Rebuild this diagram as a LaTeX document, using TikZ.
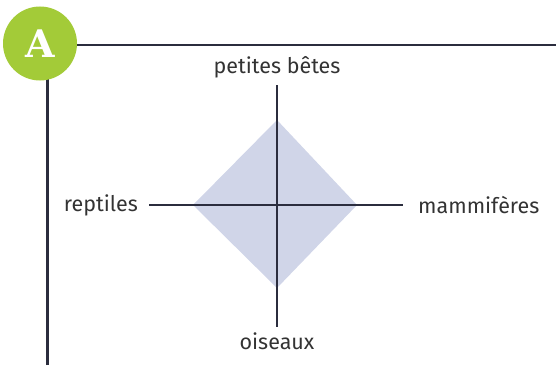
\documentclass[tikz,border=0pt]{standalone}
\usepackage{fontspec}
\setmainfont{Fira Sans}
\newfontfamily\badgefont{DejaVu Serif}
\usetikzlibrary{positioning}
\definecolor{badgegreen}{RGB}{163,203,56}
\definecolor{axisnavy}{RGB}{43,45,62}
\definecolor{fillblue}{RGB}{208,213,232}
\definecolor{labelgrey}{RGB}{51,51,51}

\begin{document}
\begin{tikzpicture}[x=1pt,y=1pt,
    axis/.style={draw=axisnavy,line width=2pt},
    frameline/.style={draw=axisnavy,line width=2.4pt},
    lbl/.style={text=labelgrey,font=\fontsize{21.5}{24}\selectfont,inner sep=0pt},
    badge/.style={circle,fill=badgegreen,minimum size=74pt,inner sep=0pt,
        text=white,font=\badgefont\bfseries\fontsize{38}{38}\selectfont}]
    \useasboundingbox (0,0) rectangle (556,365);
    \coordinate (framefoot) at (47.5,0);
    \coordinate (corner) at (47.5,320);
    \coordinate (frameend) at (556,320);
    \draw[frameline] (framefoot) -- (corner) -- (frameend);
    \node[badge] (badgeA) at (40,321.5) {A};
    \coordinate (centre) at (277,160);
    \coordinate (top) at (277,280);
    \coordinate (bottom) at (277,38);
    \coordinate (left) at (149,160);
    \coordinate (right) at (403,160);
    \coordinate (dtop) at (277,245);
    \coordinate (dbottom) at (277,77);
    \coordinate (dleft) at (193,160);
    \coordinate (dright) at (357,160);
    \fill[fillblue] (dtop) -- (dright) -- (dbottom) -- (dleft) -- cycle;
    \draw[axis] (top) -- (bottom);
    \draw[axis] (left) -- (right);
    \node[lbl,above=7pt of top] (petites) {petites bêtes};
    \node[lbl,below=6pt of bottom] (oiseaux) {oiseaux};
    \node[lbl,left=11pt of left] (reptiles) {reptiles};
    \node[lbl,right=15pt of right] (mammiferes) {mammifères};
\end{tikzpicture}
\end{document}
